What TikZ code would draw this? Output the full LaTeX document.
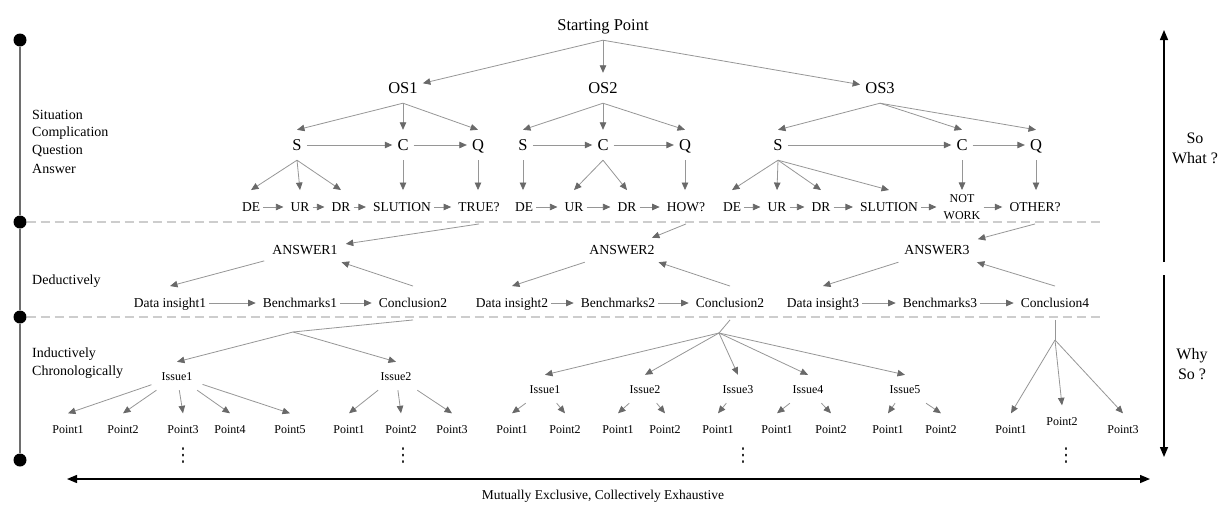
\documentclass[tikz,border=0pt]{standalone}
\usepackage{fontspec}
\setmainfont{Liberation Serif}
\newfontfamily\dejavu{DejaVu Sans}
\usetikzlibrary{arrows.meta,calc}
\definecolor{lgray}{RGB}{150,150,150}
\definecolor{tgray}{RGB}{105,105,105}
\definecolor{dgray}{RGB}{205,205,205}
\definecolor{vgray}{RGB}{110,110,110}
\begin{document}
\begin{tikzpicture}[x=1pt,y=-1pt,
 big/.style={font=\fontsize{16.5}{18}\selectfont, text height=11.5pt, text depth=0pt, inner xsep=5pt, inner ysep=9.25pt},
 mid/.style={font=\fontsize{13.5}{15}\selectfont, text height=9.5pt, text depth=0pt, inner xsep=3pt, inner ysep=12pt},
 ans/.style={font=\fontsize{13.8}{15}\selectfont, text height=9.5pt, text depth=0pt, inner xsep=8pt, inner ysep=7.25pt},
 iss/.style={font=\fontsize{12}{14}\selectfont, text height=8pt, text depth=0pt, inner xsep=10pt, inner ysep=10pt},
 pnt/.style={font=\fontsize{12}{14}\selectfont, text height=8pt, text depth=0pt, inner xsep=3pt, inner ysep=11.5pt},
 lab/.style={font=\fontsize{14}{16}\selectfont, anchor=west, inner sep=0pt, text height=9.5pt, text depth=0pt},
 side/.style={font=\fontsize{16}{20}\selectfont, align=center, inner sep=0pt},
 vdot/.style={font=\dejavu\fontsize{19}{20}\selectfont, inner sep=0pt, text=black!85},
 tarr/.style={draw=lgray, line width=0.8pt, -{Triangle[length=7.5pt,width=6.5pt,color=tgray,fill=tgray]}},
 harr/.style={tarr, shorten >=4pt},
 plainln/.style={draw=lgray, line width=0.8pt},
 dashln/.style={draw=dgray, line width=1.1pt, dash pattern=on 9pt off 5pt},
 bigarr/.style={draw=black, line width=1.4pt, -{Triangle[length=10pt,width=8pt]}},
 dotn/.style={circle, fill=black, inner sep=0pt, minimum size=13pt},
]
\useasboundingbox (0,0) rectangle (1223,504);

% ---------- left scale ----------
\node[dotn] (d1) at (20,40) {};
\node[dotn] (d2) at (20,222) {};
\node[dotn] (d3) at (20,317) {};
\node[dotn] (d4) at (20,460) {};
\draw[draw=vgray, line width=1.3pt] (d1) -- (d2);
\draw[draw=vgray, line width=1.3pt] (d2) -- (d3);
\draw[draw=vgray, line width=1.3pt] (d3) -- (d4);
\coordinate (e1) at (1100,222);
\coordinate (e2) at (1100,317);
\draw[dashln] (d2) -- (e1);
\draw[dashln] (d3) -- (e2);

\node[lab] (l1) at (32,115) {Situation};
\node[lab] (l2) at (32,132) {Complication};
\node[lab] (l3) at (32,150) {Question};
\node[lab] (l4) at (32,169) {Answer};
\node[lab] (l5) at (32,280) {Deductively};
\node[lab] (l6) at (32,353) {Inductively};
\node[lab] (l7) at (32,371) {Chronologically};

% ---------- right arrows ----------
\coordinate (ua) at (1164,262);
\coordinate (ub) at (1164,30);
\coordinate (da) at (1164,275);
\coordinate (db) at (1164,457);
\draw[bigarr] (ua) -- (ub);
\draw[bigarr] (da) -- (db);
\node[side] (sw) at (1195,148) {So\\What ?};
\node[side] (ws) at (1192,364) {Why\\So ?};

% ---------- bottom arrow ----------
\coordinate (bl) at (67,479);
\coordinate (br) at (1150,479);
\draw[draw=black, line width=1.4pt, {Triangle[length=10pt,width=8pt]}-{Triangle[length=10pt,width=8pt]}] (bl) -- (br);
\node[font=\fontsize{13.5}{15}\selectfont, inner sep=0pt] (mece) at (603,496) {Mutually Exclusive, Collectively Exhaustive};

% ---------- top levels ----------
\node[big] (sp) at (603,25) {Starting Point};
\node[big] (os1) at (403,88) {OS1};
\node[big] (os2) at (603,88) {OS2};
\node[big] (os3) at (880,88) {OS3};

\node[big] (s1) at (297,145) {S};
\node[big] (c1) at (403,145) {C};
\node[big] (q1) at (478,145) {Q};
\node[big] (s2) at (523,145) {S};
\node[big] (c2) at (603,145) {C};
\node[big] (q2) at (685,145) {Q};
\node[big] (s3) at (778,145) {S};
\node[big] (c3) at (962,145) {C};
\node[big] (q3) at (1036,145) {Q};

\draw[tarr] (sp.south) -- (os1);
\draw[tarr] (sp.south) -- (os2.north);
\draw[tarr] (sp.south) -- (os3);

\draw[tarr] (os1.south) -- (s1.north);
\draw[tarr] (os1.south) -- (c1.north);
\draw[tarr] (os1.south) -- (q1.north);
\draw[tarr] (os2.south) -- (s2.north);
\draw[tarr] (os2.south) -- (c2.north);
\draw[tarr] (os2.south) -- (q2.north);
\draw[tarr] (os3.south) -- (s3.north);
\draw[tarr] (os3.south) -- (c3.north);
\draw[tarr] (os3.south) -- (q3.north);

\draw[tarr] (s1) -- (c1);
\draw[tarr] (c1) -- (q1);
\draw[tarr] (s2) -- (c2);
\draw[tarr] (c2) -- (q2);
\draw[tarr] (s3) -- (c3);
\draw[tarr] (c3) -- (q3);

% ---------- row 3 ----------
\node[mid] (de1) at (251,207) {DE};
\node[mid] (ur1) at (300,207) {UR};
\node[mid] (dr1) at (341,207) {DR};
\node[mid] (sl1) at (402,207) {SLUTION};
\node[mid] (tr1) at (479,207) {TRUE?};
\node[mid] (de2) at (524,207) {DE};
\node[mid] (ur2) at (574,207) {UR};
\node[mid] (dr2) at (627,207) {DR};
\node[mid] (how2) at (686,207) {HOW?};
\node[mid] (de3) at (732,207) {DE};
\node[mid] (ur3) at (777,207) {UR};
\node[mid] (dr3) at (821,207) {DR};
\node[mid] (sl3) at (889,207) {SLUTION};
\node[font=\fontsize{12}{16.5}\selectfont, align=center, inner xsep=3pt, inner ysep=4.5pt] (nw3) at (962,207) {NOT\\WORK};
\node[mid] (ot3) at (1035,207) {OTHER?};

\draw[tarr] (s1.south) -- (de1.north);
\draw[tarr] (s1.south) -- (ur1.north);
\draw[tarr] (s1.south) -- (dr1.north);
\draw[tarr] (c1.south) -- (c1.south |- sl1.north);
\draw[tarr] (q1.south) -- (q1.south |- tr1.north);
\draw[tarr] (s2.south) -- (s2.south |- de2.north);
\draw[tarr] (c2.south) -- (ur2.north);
\draw[tarr] (c2.south) -- (dr2.north);
\draw[tarr] (q2.south) -- (q2.south |- how2.north);
\draw[tarr] (s3.south) -- (de3.north);
\draw[tarr] (s3.south) -- (ur3.north);
\draw[tarr] (s3.south) -- (dr3.north);
\draw[tarr] (s3.south) -- (sl3.north);
\draw[tarr] (c3.south) -- (nw3.north);
\draw[tarr] (q3.south) -- (q3.south |- ot3.north);

\draw[harr] (de1) -- (ur1);
\draw[harr] (ur1) -- (dr1);
\draw[harr] (dr1) -- (sl1);
\draw[harr] (sl1) -- (tr1);
\draw[harr] (de2) -- (ur2);
\draw[harr] (ur2) -- (dr2);
\draw[harr] (dr2) -- (how2);
\draw[harr] (de3) -- (ur3);
\draw[harr] (ur3) -- (dr3);
\draw[harr] (dr3) -- (sl3);
\draw[harr] (sl3) -- (nw3);
\draw[harr] (nw3) -- (ot3);

% ---------- answers ----------
\node[ans] (a1) at (305,250) {ANSWER1};
\node[ans] (a2) at (622,250) {ANSWER2};
\node[ans] (a3) at (937,250) {ANSWER3};

\node[mid] (di1) at (170,303) {Data insight1};
\node[mid] (bm1) at (300,303) {Benchmarks1};
\node[mid] (cn1) at (413,303) {Conclusion2};
\node[mid] (di2) at (512,303) {Data insight2};
\node[mid] (bm2) at (618,303) {Benchmarks2};
\node[mid] (cn2) at (730,303) {Conclusion2};
\node[mid] (di3) at (823,303) {Data insight3};
\node[mid] (bm3) at (940,303) {Benchmarks3};
\node[mid] (cn4) at (1055,303) {Conclusion4};

\draw[tarr] (tr1.south) -- (a1);
\draw[tarr] (how2.south) -- (a2);
\draw[tarr] (ot3.south) -- (a3);

\draw[tarr] (a1) -- (di1.north);
\draw[tarr] (cn1.north) -- (a1);
\draw[tarr] (a2) -- (di2.north);
\draw[tarr] (cn2.north) -- (a2);
\draw[tarr] (a3) -- (di3.north);
\draw[tarr] (cn4.north) -- (a3);

\draw[harr] (di1) -- (bm1);
\draw[harr] (bm1) -- (cn1);
\draw[harr] (di2) -- (bm2);
\draw[harr] (bm2) -- (cn2);
\draw[harr] (di3) -- (bm3);
\draw[harr] (bm3) -- (cn4);

% ---------- bottom: group 1 ----------
\coordinate (j1) at (293,332);
\node[iss] (i11) at (177,376) {Issue1};
\node[iss] (i12) at (396,376) {Issue2};
\node[pnt] (p11) at (68,429) {Point1};
\node[pnt] (p12) at (123,429) {Point2};
\node[pnt] (p13) at (183,429) {Point3};
\node[pnt] (p14) at (230,429) {Point4};
\node[pnt] (p15) at (290,429) {Point5};
\node[pnt] (p16) at (349,429) {Point1};
\node[pnt] (p17) at (401,429) {Point2};
\node[pnt] (p18) at (452,429) {Point3};
\node[vdot] (v1) at (183,456) {⋮};
\node[vdot] (v2) at (403,456) {⋮};

\draw[plainln] (cn1.south) -- (j1);
\draw[tarr] (j1) -- (i11.north);
\draw[tarr] (j1) -- (i12.north);
\draw[tarr] (i11) -- (p11.north);
\draw[tarr] (i11) -- (p12.north);
\draw[tarr] (i11) -- (p13.north);
\draw[tarr] (i11) -- (p14.north);
\draw[tarr] (i11) -- (p15.north);
\draw[tarr] (i12) -- (p16.north);
\draw[tarr] (i12) -- (p17.north);
\draw[tarr] (i12) -- (p18.north);

% ---------- bottom: group 2 ----------
\coordinate (j2) at (719,333);
\node[iss] (i21) at (545,389) {Issue1};
\node[iss] (i22) at (645,389) {Issue2};
\node[iss] (i23) at (738,389) {Issue3};
\node[iss] (i24) at (808,389) {Issue4};
\node[iss] (i25) at (905,389) {Issue5};
\node[pnt] (q11) at (512,429) {Point1};
\node[pnt] (q12) at (565,429) {Point2};
\node[pnt] (q21) at (618,429) {Point1};
\node[pnt] (q22) at (665,429) {Point2};
\node[pnt] (q31) at (718,429) {Point1};
\node[pnt] (q41) at (777,429) {Point1};
\node[pnt] (q42) at (831,429) {Point2};
\node[pnt] (q51) at (888,429) {Point1};
\node[pnt] (q52) at (941,429) {Point2};
\node[vdot] (v3) at (743,456) {⋮};

\draw[plainln] (cn2.south) -- (j2);
\draw[tarr] (j2) -- (i21.north);
\draw[tarr] (j2) -- (i22.north);
\draw[tarr] (j2) -- (i23.north);
\draw[tarr] (j2) -- (i24.north);
\draw[tarr] (j2) -- (i25.north);
\draw[tarr] (i21) -- (q11.north);
\draw[tarr] (i21) -- (q12.north);
\draw[tarr] (i22) -- (q21.north);
\draw[tarr] (i22) -- (q22.north);
\draw[tarr] (i23) -- (q31.north);
\draw[tarr] (i24) -- (q41.north);
\draw[tarr] (i24) -- (q42.north);
\draw[tarr] (i25) -- (q51.north);
\draw[tarr] (i25) -- (q52.north);

% ---------- bottom: group 3 ----------
\coordinate (j3) at (1055,340);
\node[pnt] (r1) at (1011,429) {Point1};
\node[pnt] (r2) at (1062,421) {Point2};
\node[pnt] (r3) at (1123,429) {Point3};
\node[vdot] (v4) at (1066,456) {⋮};

\draw[plainln] (cn4.south) -- (j3);
\draw[tarr] (j3) -- (r1.north);
\draw[tarr] (j3) -- (r2.north);
\draw[tarr] (j3) -- (r3.north);
\end{tikzpicture}
\end{document}
